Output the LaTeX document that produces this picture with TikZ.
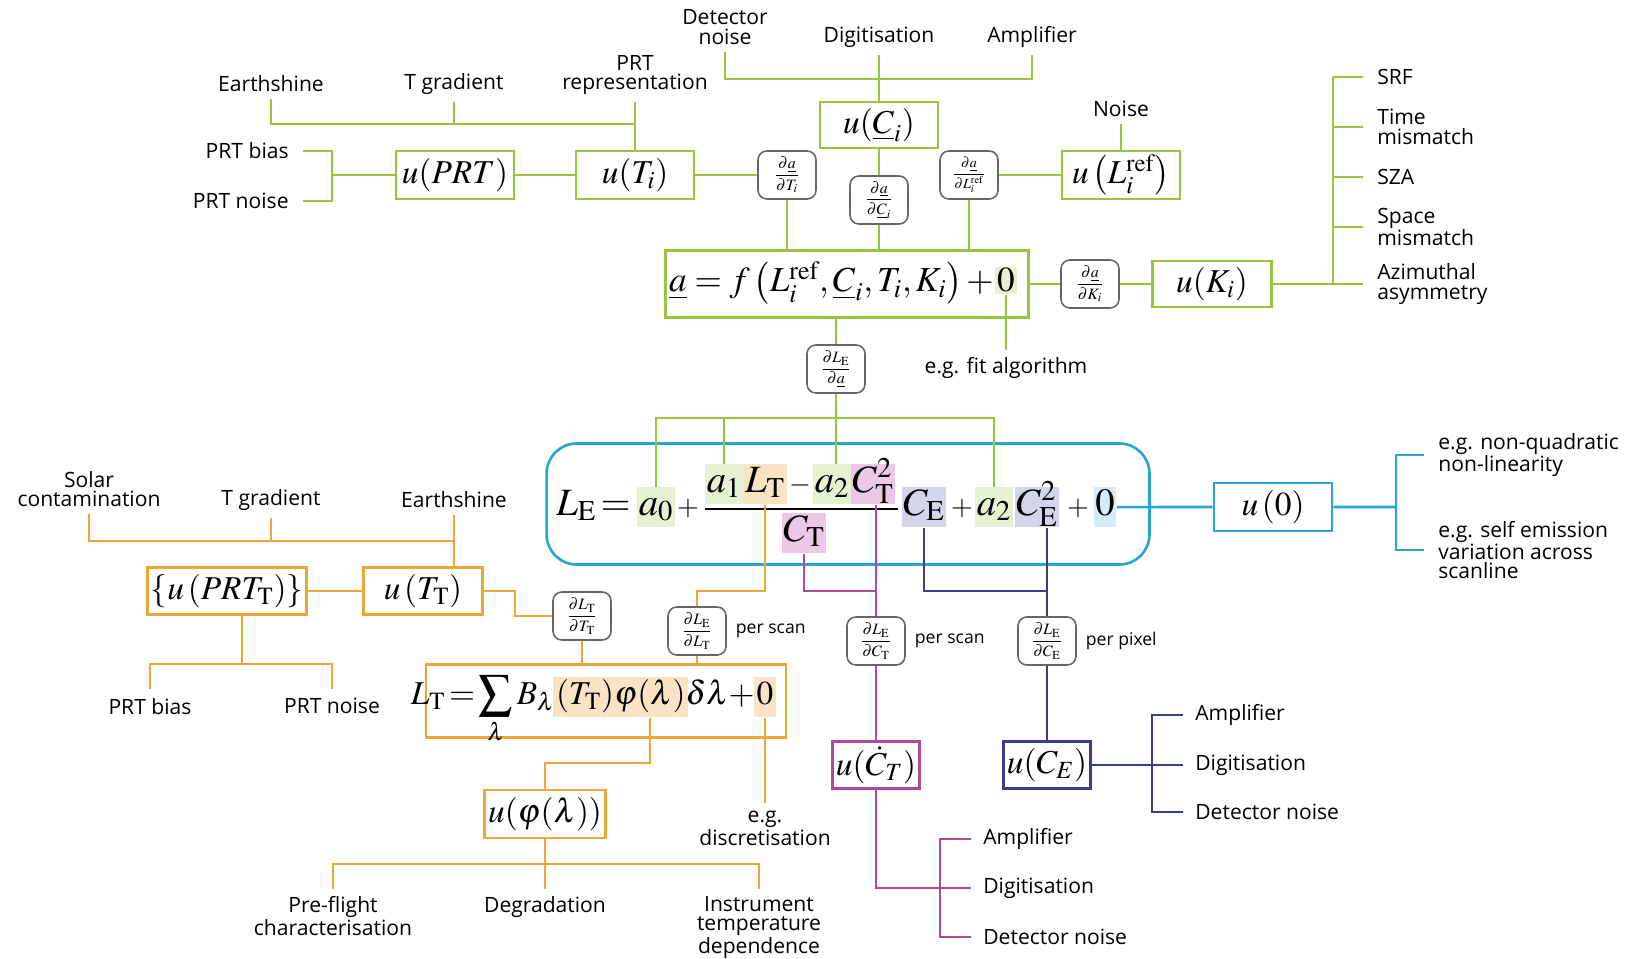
\documentclass[tikz,border=0pt]{standalone}
\usepackage{mathptmx}
\usepackage[no-math]{fontspec}
\setmainfont{Open Sans}
\usetikzlibrary{positioning}

\definecolor{gcol}{RGB}{152,197,62}
\definecolor{ocol}{RGB}{240,165,55}
\definecolor{bcol}{RGB}{40,165,215}
\definecolor{pcol}{RGB}{180,70,155}
\definecolor{ncol}{RGB}{60,60,140}
\definecolor{hg}{RGB}{232,240,212}
\definecolor{ho}{RGB}{250,226,196}
\definecolor{hp}{RGB}{236,200,230}
\definecolor{hn}{RGB}{212,212,234}
\definecolor{hb}{RGB}{212,236,248}

\newcommand\lblsize{\fontsize{12}{11}\selectfont}
\newcommand\persize{\fontsize{10}{11}\selectfont}
\newcommand\boxsize{\fontsize{19}{22}\selectfont}
\newcommand\asize{\fontsize{20}{24}\selectfont}
\newcommand\eqsize{\fontsize{22}{26}\selectfont}
\newcommand\opsize{\fontsize{16}{20}\selectfont}
\newcommand\derivsize{\fontsize{9}{10}\selectfont}
\newcommand\drv[2]{$\displaystyle\frac{\partial #1}{\partial #2}$}

\tikzset{
  lbl/.style={font=\lblsize, align=center, inner sep=0pt},
  ubox/.style={draw=#1, line width=1.5pt, fill=white, font=\boxsize, inner sep=2pt, minimum width=2.36cm, minimum height=0.96cm},
  dbox/.style={draw=black!60, line width=0.9pt, rounded corners=5pt, fill=white, font=\derivsize, inner sep=1pt, minimum width=1.16cm, minimum height=0.96cm},
  hl/.style={fill=#1, inner sep=1pt, anchor=base, text height=15pt, text depth=6pt, font=\eqsize},
  hlt/.style={fill=#1, inner sep=1.5pt, anchor=base, text height=14pt, text depth=6pt, font=\boxsize},
  eqop/.style={font=\opsize, anchor=base, inner sep=0pt},
  gline/.style={draw=gcol, line width=1.5pt},
  oline/.style={draw=ocol, line width=1.5pt},
  bline/.style={draw=bcol, line width=1.5pt},
  pline/.style={draw=pcol, line width=1.5pt},
  nline/.style={draw=ncol, line width=1.5pt}
}

\begin{document}
\begin{tikzpicture}[x=0.02cm,y=-0.02cm]
\useasboundingbox (0,0) rectangle (1648,959);

% green: calibration coefficients
\node[lbl] (gDet) at (725,27) {Detector\\noise};
\node[lbl] (gDig) at (879,37) {Digitisation};
\node[lbl] (gAmp) at (1032,37) {Amplifier};
\node[ubox=gcol, minimum height=0.92cm] (uC) at (879,125) {$u(\underline{C}_i)$};
\node[dbox] (dadC) at (879,200) {\drv{\underline{a}}{\underline{C}_i}};
\node[dbox] (dadT) at (787,175) {\drv{\underline{a}}{T_i}};
\node[dbox, font=\fontsize{8}{9}\selectfont] (dadL) at (969,175) {\drv{\underline{a}}{L_i^{\mathrm{ref}}}};
\node[ubox=gcol] (uL) at (1121,175) {$u\left(L_i^{\mathrm{ref}}\right)$};
\node[lbl] (gNoise) at (1121,109) {Noise};
\node[ubox=gcol] (uT) at (635,175) {$u(T_i)$};
\node[ubox=gcol] (uPRT) at (455,175) {$u(PRT)$};
\node[lbl, anchor=east] (gPRTb) at (289,151) {PRT bias};
\node[lbl, anchor=east] (gPRTn) at (289,201) {PRT noise};
\node[lbl] (gEarth) at (271,84) {Earthshine};
\node[lbl] (gTgrad) at (454,84) {T gradient};
\node[lbl] (gPRTrep) at (635,75) {PRT\\representation};
\node[ubox=gcol, minimum width=7.26cm, minimum height=1.34cm] (abox) at (847,284) {};
\node[font=\asize, anchor=base east, inner sep=0pt] (afun) at (994,292) {$\underline{a}=f\left(L_i^{\mathrm{ref}},\underline{C}_i,T_i,K_i\right)+$};
\node[fill=hg, font=\asize, anchor=base, inner sep=1pt] (azero) at (1006,292) {$0$};
\node[lbl] (gFit) at (1006,368) {e.g. fit algorithm};
\node[dbox] (dadK) at (1090,284) {\drv{\underline{a}}{K_i}};
\node[ubox=gcol, minimum width=2.38cm, minimum height=0.92cm] (uK) at (1212,284) {$u(K_i)$};
\node[lbl, anchor=west] (gSRF) at (1377,77) {SRF};
\node[lbl, anchor=west, align=left] (gTime) at (1377,127) {Time\\mismatch};
\node[lbl, anchor=west] (gSZA) at (1377,177) {SZA};
\node[lbl, anchor=west, align=left] (gSpace) at (1377,227) {Space\\mismatch};
\node[lbl, anchor=west, align=left] (gAzi) at (1377,284) {Azimuthal\\asymmetry};
\node[dbox] (dLEa) at (836,369) {\drv{L_{\mathrm{E}}}{\underline{a}}};

\coordinate (gtopj) at (879,79);
\coordinate (gjoin) at (635,124);
\coordinate (gbr) at (332,175);
\coordinate (kbr) at (1333,284);
\coordinate (ghub) at (836,418);
\draw[gline] ([yshift=-4pt]gDet.south) |- (gtopj) -| ([yshift=-4pt]gAmp.south);
\draw[gline] ([yshift=-4pt]gDig.south) -- (uC);
\draw[gline] (uC) -- (dadC) -- (dadC |- abox.north);
\draw[gline] (dadT) -- (dadT |- abox.north);
\draw[gline] (dadL) -- (dadL |- abox.north);
\draw[gline] (uPRT) -- (uT) -- (dadT);
\draw[gline] (dadL) -- (uL);
\draw[gline] ([yshift=-4pt]gNoise.south) -- (uL);
\draw[gline] ([yshift=-4pt]gEarth.south) |- (gjoin);
\draw[gline] ([yshift=-4pt]gTgrad.south) -- (gTgrad |- gjoin);
\draw[gline] ([yshift=-4pt]gPRTrep.south) -- (uT);
\draw[gline, shorten <=8pt, shorten >=8pt] (gPRTb.east) -| (gbr) |- (gPRTn.east);
\draw[gline] (gbr) -- (uPRT);
\draw[gline] (abox) -- (dadK) -- (uK) -- (kbr);
\draw[gline] (kbr) -- (kbr |- gSRF.west);
\foreach \n in {gSRF,gTime,gSZA,gSpace,gAzi}
  \draw[gline, shorten >=8pt] (kbr |- \n.west) -- (\n.west);
\draw[gline] (azero) -- ([yshift=4pt]gFit.north);
\draw[gline] (dLEa |- abox.south) -- (dLEa) -- (ghub);

% blue: Earth view radiance
\node[draw=bcol, line width=1.5pt, rounded corners=0.6cm, minimum width=12.06cm, minimum height=2.42cm] (LEbox) at (848,504) {};
\node[font=\eqsize, anchor=base west, inner sep=0pt] (LEl) at (556,515) {$L_{\mathrm{E}}\!=$};
\node[hl=hg] (a0) at (656,515) {$a_0$};
\node[eqop] (pl1) at (688,515) {$+$};
\node[hl=hg] (a1) at (724,492) {$a_1$};
\node[hl=ho] (LT) at (765,492) {$L_{\mathrm{T}}$};
\node[eqop] (mi) at (800,492) {$-$};
\node[hl=hg] (a2) at (832,492) {$a_2$};
\node[hl=hp] (CT2) at (873,492) {$C_{\mathrm{T}}^2$};
\node[hl=hp] (CTd) at (804,541) {$C_{\mathrm{T}}$};
\node[hl=hn] (CE) at (924,515) {$C_{\mathrm{E}}$};
\node[eqop] (pl2) at (962,515) {$+$};
\node[hl=hg] (a2b) at (994,515) {$a_2$};
\node[hl=hn] (CE2) at (1037,515) {$C_{\mathrm{E}}^2$};
\node[eqop] (pl3) at (1078,515) {$+$};
\node[hl=hb] (Bz) at (1105,515) {$0$};
\draw[line width=1.1pt] (705,509) -- (898,509);
\node[ubox=bcol] (u0) at (1273,507) {$u\left(0\right)$};
\node[lbl, anchor=west, align=left] (bNq) at (1438,455) {e.g. non-quadratic\\non-linearity};
\node[lbl, anchor=west, align=left] (bSelf) at (1438,550) {e.g. self emission\\variation across\\scanline};
\coordinate (bbr) at (1396,507);

\draw[gline] (a0.north) |- (ghub) -| (a2b.north);
\draw[gline] (a1.north) -- (a1.north |- ghub);
\draw[gline] (ghub) -- (ghub |- a2.north);
\draw[bline] (Bz) -- (u0) -- (bbr);
\draw[bline, shorten <=8pt, shorten >=8pt] (bNq.west) -| (bbr) |- (bSelf.west);

% orange: reference radiance
\node[lbl] (oSolar) at (89,489) {Solar\\contamination};
\node[lbl] (oTgrad) at (271,500) {T gradient};
\node[lbl] (oEarth) at (454,500) {Earthshine};
\node[ubox=ocol, minimum width=2.96cm, minimum height=0.94cm] (uPRTT) at (227,591) {$\left\{u\left(PRT_{\mathrm{T}}\right)\right\}$};
\node[ubox=ocol, minimum width=2.38cm, minimum height=0.94cm] (uTT) at (423,591) {$u\left(T_{\mathrm{T}}\right)$};
\node[lbl, anchor=north] (oPbias) at (150,698) {PRT bias};
\node[lbl, anchor=north] (oPnoise) at (332,698) {PRT noise};
\node[dbox] (dLTT) at (582,616) {\drv{L_{\mathrm{T}}}{T_{\mathrm{T}}}};
\node[dbox] (dLEL) at (697,631) {\drv{L_{\mathrm{E}}}{L_{\mathrm{T}}}};
\node[lbl, font=\persize, right=5pt of dLEL] (oPS) {per scan};
\node[ubox=ocol, minimum width=7.2cm, minimum height=1.46cm] (LTbox) at (606,701) {};
\node[font=\boxsize, anchor=base east, inner sep=0pt] (LTl) at (555,704) {$\displaystyle L_{\mathrm{T}}\!=\!\sum_{\lambda}B_{\lambda}$};
\node[hlt=ho] (LTa) at (585,704) {$(T_{\mathrm{T}})$};
\node[hlt=ho] (LTphi) at (650,704) {$\varphi(\lambda)$};
\node[font=\boxsize, anchor=base, inner sep=0pt] (LTd) at (720,704) {$\delta\lambda+$};
\node[hlt=ho] (LTz) at (765,704) {$0$};
\node[ubox=ocol, minimum height=0.96cm] (uphi) at (545,814) {$u(\varphi(\lambda))$};
\node[lbl] (oDisc) at (765,828) {e.g.\\discretisation};
\node[lbl, anchor=north] (oPre) at (333,896) {Pre-flight\\characterisation};
\node[lbl, anchor=north] (oDeg) at (545,896) {Degradation};
\node[lbl, anchor=north] (oInst) at (759,896) {Instrument\\temperature\\dependence};

\coordinate (ojoin) at (454,541);
\coordinate (oprt) at (242,664);
\coordinate (oelbow) at (515,591);
\coordinate (oknee) at (697,591);
\coordinate (oknee2) at (545,763);
\coordinate (ohub) at (545,864);
\draw[oline] ([yshift=-4pt]oSolar.south) |- (ojoin);
\draw[oline] ([yshift=-4pt]oTgrad.south) -- (oTgrad |- ojoin);
\draw[oline] ([yshift=-4pt]oEarth.south) -- (oEarth |- uTT.north);
\draw[oline] (uPRTT) -- (uTT);
\draw[oline] (oprt |- uPRTT.south) -- (oprt);
\draw[oline] ([yshift=5pt]oPbias.north) |- (oprt) -| ([yshift=5pt]oPnoise.north);
\draw[oline] (uTT) -- (oelbow) |- (dLTT);
\draw[oline] (dLTT) -- (dLTT |- LTbox.north);
\draw[oline] (LT.south) |- (oknee) -- (dLEL);
\draw[oline] (dLEL) -- (dLEL |- LTbox.north);
\draw[oline] (LTphi.south) |- (oknee2) -- (uphi);
\draw[oline] (LTz.south) -- ([yshift=4pt]oDisc.north);
\draw[oline] (uphi) -- (ohub);
\draw[oline] ([yshift=4pt]oPre.north) |- (ohub) -| ([yshift=4pt]oInst.north);
\draw[oline] (ohub) -- ([yshift=4pt]oDeg.north);

% pink: ICT counts
\node[dbox] (dLEC) at (876,641) {\drv{L_{\mathrm{E}}}{C_{\mathrm{T}}}};
\node[lbl, font=\persize, right=5pt of dLEC] (pPS) {per scan};
\node[ubox=pcol, minimum width=1.62cm, minimum height=0.94cm] (uCT) at (876,765) {$u(\dot{C}_T)$};
\node[lbl, anchor=west] (pAmp) at (983,839) {Amplifier};
\node[lbl, anchor=west] (pDig) at (983,888) {Digitisation};
\node[lbl, anchor=west] (pDet) at (983,937) {Detector noise};
\coordinate (pknee) at (876,591);
\coordinate (pbr) at (940,888);
\draw[pline] (CTd.south) |- (pknee);
\draw[pline] (dLEC |- CT2.south) -- (dLEC) -- (uCT);
\draw[pline] (uCT) |- (pbr);
\draw[pline, shorten <=7pt, shorten >=7pt] (pAmp.west) -| (pbr) |- (pDet.west);
\draw[pline, shorten >=7pt] (pbr) -- (pDig.west);

% navy: Earth counts
\node[dbox] (dLEN) at (1047,641) {\drv{L_{\mathrm{E}}}{C_{\mathrm{E}}}};
\node[lbl, font=\persize, right=5pt of dLEN] (nPP) {per pixel};
\node[ubox=ncol, minimum width=1.68cm, minimum height=0.94cm] (uCE) at (1047,765) {$u(C_E)$};
\node[lbl, anchor=west] (nAmp) at (1195,715) {Amplifier};
\node[lbl, anchor=west] (nDig) at (1195,765) {Digitisation};
\node[lbl, anchor=west] (nDet) at (1195,812) {Detector noise};
\coordinate (nknee) at (1047,591);
\coordinate (nbr) at (1152,765);
\draw[nline] (CE.south) |- (nknee);
\draw[nline] (dLEN |- CE2.south) -- (dLEN) -- (uCE) -- (nbr);
\draw[nline, shorten <=7pt, shorten >=7pt] (nAmp.west) -| (nbr) |- (nDet.west);
\draw[nline, shorten >=7pt] (nbr) -- (nDig.west);
\end{tikzpicture}
\end{document}
